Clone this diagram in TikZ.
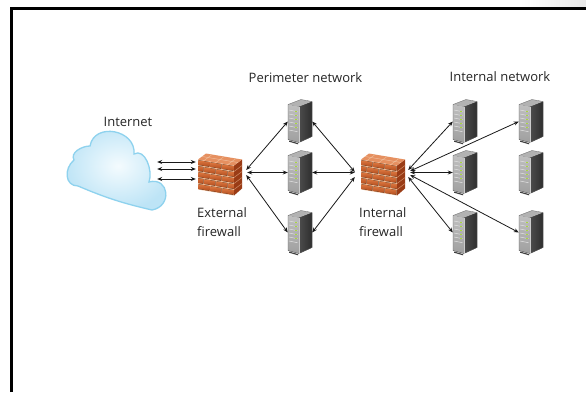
\documentclass[tikz,border=0pt]{standalone}
\usepackage{fontspec}
\setmainfont{Open Sans}
\usetikzlibrary{arrows.meta,calc}

\definecolor{mortar}{HTML}{EDB892}
\definecolor{brickA}{HTML}{DC7840}
\definecolor{brickB}{HTML}{B24C1E}
\definecolor{brickSide}{HTML}{9A3C16}
\definecolor{brickTop}{HTML}{E69060}
\definecolor{cloudEdge}{HTML}{8ED2EE}
\definecolor{cloudIn}{HTML}{F4FBFE}
\definecolor{cloudOut}{HTML}{BDE4F6}
\definecolor{led}{HTML}{A8D83C}

\tikzset{
  lbl/.style={font=\fontsize{13}{19}\selectfont, inner sep=0pt, text=black!85},
  srvbox/.style={minimum width=24pt, minimum height=42pt, inner sep=0pt},
  fwbox/.style={minimum width=44pt, minimum height=42pt, inner sep=0pt},
  cloudbox/.style={minimum width=82pt, minimum height=70pt, inner sep=0pt},
  conn/.style={line width=0.8pt, black!90,
    {Stealth[length=5pt,width=4pt]}-{Stealth[length=5pt,width=4pt]}},
  % tower server seen from the front-left
  server/.pic={
    \fill[top color=gray!50, bottom color=gray!75]
      (-12,17) -- (-1,15) -- (-1,-21) -- (-12,-18) -- cycle;
    \fill[left color=black!70, middle color=gray!70!black, right color=black!82]
      (-1,15) -- (12,20) -- (12,-15) -- (-1,-21) -- cycle;
    \fill[gray!60] (-12,17) -- (-1,15) -- (12,20) -- (1,22) -- cycle;
    \foreach \k in {0,...,5}
      \draw[gray!25, line width=0.5pt] (-11,{11.5-4*\k}) -- (-2.5,{11.5-4*\k-1.7});
    \foreach \k in {0,...,4}
      \fill[led] (-5.2,{9.2-4*\k}) rectangle ++(1.8,1.1);
    \draw[black!60, line width=0.3pt]
      (-12,17) -- (1,22) -- (12,20) -- (12,-15) -- (-1,-21) -- (-12,-18) -- cycle;
    \draw[gray!40, line width=0.3pt] (-1,15) -- (-1,-21);
    \fill[black!75] (-11,-19) -- (-2,-21.6) -- (-2,-22.8) -- (-11,-20.2) -- cycle;
  },
  % brick wall block
  firewall/.pic={
    \begin{scope}[shift={(-22,-17)}, yslant=-0.1667]
      \fill[mortar] (0,0) rectangle (36,30);
      \clip (0,0) rectangle (36,30);
      \foreach \r [evaluate=\r as \off using {mod(\r,2)*6}] in {0,...,4}
        \foreach \c in {-1,...,3}
          \fill[top color=brickA, bottom color=brickB]
            ({\c*12+\off+0.7},{\r*6+0.7}) rectangle ({\c*12+\off+11.3},{\r*6+5.3});
    \end{scope}
    \fill[brickSide] (14,7) -- (22,13) -- (22,-16) -- (14,-23) -- cycle;
    \foreach \r in {1,...,4}
      \draw[mortar!70!brickSide, line width=0.5pt] (14,{-23+6*\r}) -- (22,{-17+6*\r});
    \fill[brickTop] (-22,13) -- (14,7) -- (22,13) -- (-14,19) -- cycle;
    \foreach \t in {0.17,0.5,0.83}
      \draw[mortar, line width=0.5pt] ($(-22,13)!\t!(14,7)$) -- ++(8,6);
    \draw[mortar!80, line width=0.4pt] (-18,16) -- (18,10);
  }
}

\begin{document}
\begin{tikzpicture}[x=1pt, y=1pt]
\useasboundingbox (0,0) rectangle (586,392);
\fill[white] (0,0) rectangle (586,392);

% page frame
\shade[left color=white, right color=gray!18] (520,384.8) rectangle (586,392);
\draw[black, line width=2.7pt] (11.3,0) -- (11.3,383.3) -- (586,383.3);

% cloud
\draw[cloudEdge, line width=1.3pt, inner color=cloudIn, outer color=cloudOut]
  (78,206) to[out=180,in=220,looseness=1.3] (74,232)
  to[out=120,in=180] (90,246)
  to[out=80,in=85,looseness=1.4] (134,238)
  to[out=30,in=70] (149,210)
  to[out=15,in=10,looseness=1.9] (152,182)
  to[bend left=5] (78,206) -- cycle;
\node[cloudbox] (cloud) at (116,218) {};

% firewalls
\pic at (220,219.5) {firewall};
\node[fwbox] (fx) at (220,218) {};
\pic at (383,219.5) {firewall};
\node[fwbox] (ix) at (383,218) {};

% servers
\foreach \n/\x/\y in {p1/300/270.5, p2/300/219.5, p3/300/159.5,
                      i1/465/270.5, i2/465/219.5, i3/465/159.5,
                      j1/531/270.5, j2/531/219.5, j3/531/159.5}{
  \pic at (\x,\y) {server};
  \node[srvbox] (\n) at (\x,\y) {};
}

% labels
\node[lbl] (tnet) at (128,270) {Internet};
\node[lbl] (tper) at (305.5,314.5) {Perimeter network};
\node[lbl] (tint) at (500,315) {Internal network};
\node[lbl, align=left, anchor=north west] (text) at (197,185) {External\\firewall};
\node[lbl, align=left, anchor=north west] (tifw) at (359,185) {Internal\\firewall};

% Internet <-> external firewall
\foreach \s in {12,5,-5}
  \draw[conn] ([yshift=\s]cloud.east) -- ([shift={(-2,\s)}]fx.west);

% external firewall <-> perimeter servers
\draw[conn] ([shift={(4,4)}]fx.east) -- (p1.west);
\draw[conn] ([shift={(5,1.5)}]fx.east) -- (p2.west);
\draw[conn] ([shift={(4,-1)}]fx.east) -- (p3.west);

% perimeter servers <-> internal firewall
\draw[conn] (p1.east) -- ([shift={(-6,2)}]ix.west);
\draw[conn] (p2.east) -- ([shift={(-6,1.5)}]ix.west);
\draw[conn] (p3.east) -- ([shift={(-6,-3)}]ix.west);

% internal firewall <-> internal servers
\draw[conn] ([shift={(3,4)}]ix.east) -- (i1.west);
\draw[conn] ([shift={(5,3)}]ix.east) -- (j1.west);
\draw[conn] ([shift={(5,1.5)}]ix.east) -- (i2.west);
\draw[conn] ([shift={(5,-1)}]ix.east) -- (j3.west);
\draw[conn] ([shift={(3,-3)}]ix.east) -- (i3.west);
\end{tikzpicture}
\end{document}
